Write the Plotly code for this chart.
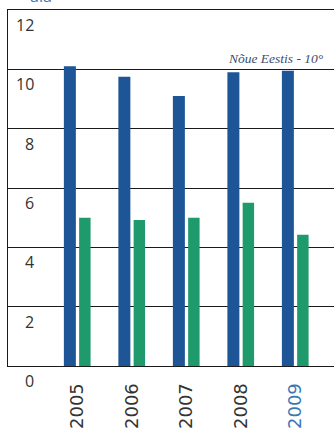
import plotly.graph_objects as go

years = ["2005", "2006", "2007", "2008", "2009"]
blue_vals = [10.1, 9.75, 9.1, 9.9, 9.95]
green_vals = [5.0, 4.92, 5.0, 5.5, 4.42]
y_ticks = [0, 2, 4, 6, 8, 10, 12]
year_colors = ["#333333", "#333333", "#333333", "#333333", "#3a78b5"]
note_text = "Nõue Eestis - 10°"
unit_text = "aia"

BLUE = "#1d5597"
GREEN = "#1f9a6c"

fig = go.Figure()
fig.add_trace(go.Bar(x=years, y=blue_vals, marker=dict(color=BLUE, line=dict(width=0)),
                     width=0.22, offset=-0.25, showlegend=False, hoverinfo="skip"))
fig.add_trace(go.Bar(x=years, y=green_vals, marker=dict(color=GREEN, line=dict(width=0)),
                     width=0.21, offset=0.03, showlegend=False, hoverinfo="skip"))

ticktext = [f'<span style="color:{c}">{y}</span>' for y, c in zip(years, year_colors)]

fig.update_layout(
    width=334, height=434,
    margin=dict(l=8, r=0, t=10, b=68),
    paper_bgcolor="white", plot_bgcolor="white",
    barmode="overlay",
    font=dict(family="DejaVu Sans", color="#333333"),
    xaxis=dict(
        type="category", range=[-1.275, 4.706],
        tickmode="array", tickvals=years, ticktext=ticktext,
        tickangle=-90, ticks="", ticklabelstandoff=9,
        tickfont=dict(size=18, family="DejaVu Sans", color="#333333"),
        showline=True, linecolor="#1a1a1a", linewidth=1, mirror=True,
        showgrid=False, zeroline=False,
    ),
    yaxis=dict(
        range=[0, 12], tickvals=y_ticks, showticklabels=False, ticks="",
        showgrid=True, gridcolor="#1a1a1a", gridwidth=1,
        showline=True, linecolor="#1a1a1a", linewidth=1,
        zeroline=False,
    ),
)

for v in y_ticks:
    fig.add_annotation(x=0, xref="paper", y=v, yref="y", text=str(v),
                       showarrow=False, xanchor="right", yanchor="middle",
                       xshift=28, yshift=-15,
                       font=dict(size=16, family="Open Sans", color="#333333"))

fig.add_annotation(x=1, xref="paper", y=10, yref="y", text=f"<i>{note_text}</i>",
                   showarrow=False, xanchor="right", yanchor="bottom",
                   xshift=-8, yshift=1,
                   font=dict(size=13.5, family="Liberation Serif", color="#3d4c70"))

fig.add_annotation(x=0, xref="paper", y=1, yref="paper", text=unit_text,
                   showarrow=False, xanchor="left", yanchor="bottom",
                   xshift=20, yshift=1,
                   font=dict(size=16, family="Open Sans", color="#3a78b5"))

fig.write_html("out.html")
